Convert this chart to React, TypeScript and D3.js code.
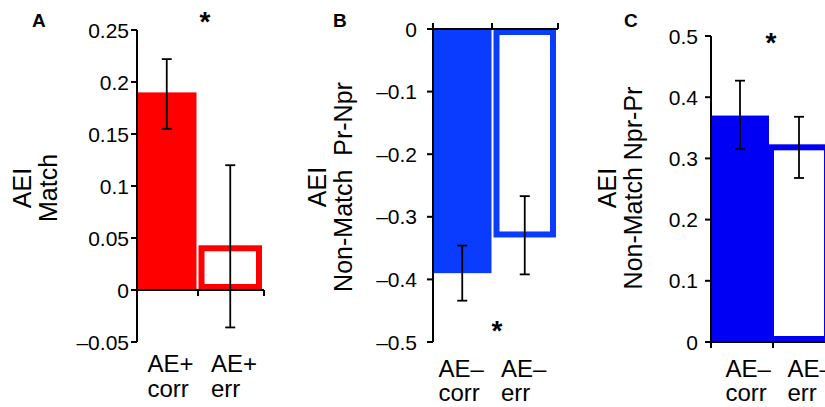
import React from "react";
import * as d3 from "d3";

// ---------- DATA ----------
const categories = ["corr", "err"];

const labelsA = [["AE+", "corr"], ["AE+", "err"]];
const valuesA = [0.19, 0.043];
const errLowA = [0.155, -0.036];
const errHighA = [0.222, 0.12];
const ticksA = [-0.05, 0, 0.05, 0.1, 0.15, 0.2, 0.25];
const tickLabelsA = ["–0.05", "0", "0.05", "0.1", "0.15", "0.2", "0.25"];

const labelsB = [["AE–", "corr"], ["AE–", "err"]];
const valuesB = [-0.39, -0.333];
const errLowB = [-0.434, -0.392];
const errHighB = [-0.346, -0.267];
const ticksB = [-0.5, -0.4, -0.3, -0.2, -0.1, 0];
const tickLabelsB = ["–0.5", "–0.4", "–0.3", "–0.2", "–0.1", "0"];

const labelsC = [["AE–", "corr"], ["AE–", "err"]];
const valuesC = [0.37, 0.323];
const errLowC = [0.315, 0.268];
const errHighC = [0.427, 0.368];
const ticksC = [0, 0.1, 0.2, 0.3, 0.4, 0.5];
const tickLabelsC = ["0", "0.1", "0.2", "0.3", "0.4", "0.5"];

const FONT = "'Liberation Sans', Arial, Helvetica, sans-serif";

type Panel = {
  letter: string;
  letterX: number;
  labels: string[][];
  values: number[];
  errLow: number[];
  errHigh: number[];
  ticks: number[];
  tickLabels: string[];
  domain: [number, number];
  yRange: [number, number];
  axisX: number;
  axisW: number;
  color: string;
  title: string[];
  titleX: number[];
  titleY: number;
  tickLabelGap: number;
  errShift: number;
  midTickShift: number;
  xTickDir: number;
  catDx: number;
  catY: number[];
  star: [number, number];
};

const panels: Panel[] = [
  {
    letter: "A", letterX: 32, labels: labelsA, values: valuesA, errLow: errLowA, errHigh: errHighA,
    ticks: ticksA, tickLabels: tickLabelsA, domain: [-0.05, 0.25], yRange: [342, 30],
    axisX: 137, axisW: 127, color: "#ff0000", title: ["AEI", "Match"], titleX: [31, 57], titleY: 188,
    tickLabelGap: 8, errShift: -2, midTickShift: -2.5, xTickDir: 1, catDx: 10.5, catY: [372, 397], star: [205, 31],
  },
  {
    letter: "B", letterX: 333, labels: labelsB, values: valuesB, errLow: errLowB, errHigh: errHighB,
    ticks: ticksB, tickLabels: tickLabelsB, domain: [-0.5, 0], yRange: [342, 29],
    axisX: 433, axisW: 125, color: "#0a3cff", title: ["AEI", "Non-Match  Pr-Npr"], titleX: [326, 352], titleY: 187,
    tickLabelGap: 16, errShift: -2, midTickShift: -3.5, xTickDir: -1, catDx: 5.5, catY: [377, 401], star: [497, 340],
  },
  {
    letter: "C", letterX: 624, labels: labelsC, values: valuesC, errLow: errLowC, errHigh: errHighC,
    ticks: ticksC, tickLabels: tickLabelsC, domain: [0, 0.5], yRange: [342, 36],
    axisX: 711, axisW: 124, color: "#0000f5", title: ["AEI", "Non-Match Npr-Pr"], titleX: [616, 642], titleY: 188,
    tickLabelGap: 13, errShift: -5, midTickShift: 0, xTickDir: 1, catDx: 14.5, catY: [377, 401], star: [771, 52],
  },
];

const SW = 6; // outline bar stroke

function PanelView({ p }: { p: Panel }) {
  const y = d3.scaleLinear().domain(p.domain).range(p.yRange);
  const x = d3.scaleBand<string>().domain(categories).range([p.axisX, p.axisX + p.axisW]).paddingInner(0).paddingOuter(0);
  const bw = x.bandwidth();
  const y0 = y(0);

  // corr bar (filled)
  const cx0 = x(categories[0])!;
  const cx1 = cx0 + bw - 4;
  const cTop = Math.min(y(p.values[0]), y0);
  const cBot = Math.max(y(p.values[0]), y0);

  // err bar (outline)
  const ex0 = x(categories[1])! + p.errShift;
  const ex1 = ex0 + bw;
  const eTop = Math.min(y(p.values[1]), y0);
  const eBot = Math.max(y(p.values[1]), y0);

  const centers = [(cx0 + cx1) / 2, (ex0 + ex1) / 2];
  const xTicks = [p.axisX, x(categories[1])! + p.midTickShift, p.axisX + p.axisW];

  return (
    <g>
      <rect x={cx0} y={cTop} width={cx1 - cx0} height={cBot - cTop} fill={p.color} />
      <rect x={ex0 + SW / 2} y={eTop + SW / 2} width={ex1 - ex0 - SW} height={eBot - eTop - SW}
        fill="#ffffff" stroke={p.color} strokeWidth={SW} />
      {/* error bars */}
      {centers.map((c, i) => (
        <g key={i} stroke="#000" strokeWidth={1.8}>
          <line x1={c} x2={c} y1={y(p.errLow[i])} y2={y(p.errHigh[i])} />
          <line x1={c - 5} x2={c + 5} y1={y(p.errLow[i])} y2={y(p.errLow[i])} />
          <line x1={c - 5} x2={c + 5} y1={y(p.errHigh[i])} y2={y(p.errHigh[i])} />
        </g>
      ))}
      {/* y axis */}
      <line x1={p.axisX} x2={p.axisX} y1={p.yRange[0]} y2={p.yRange[1]} stroke="#000" strokeWidth={2} />
      {p.ticks.map((t, i) => (
        <g key={i}>
          <line x1={p.axisX - 6} x2={p.axisX} y1={y(t)} y2={y(t)} stroke="#000" strokeWidth={2} />
          <text x={p.axisX - p.tickLabelGap} y={y(t)} dy="0.36em" textAnchor="end" fontSize={21} fontFamily={FONT} fill="#000">
            {p.tickLabels[i]}
          </text>
        </g>
      ))}
      {/* x axis */}
      <line x1={p.axisX} x2={p.axisX + p.axisW} y1={y0} y2={y0} stroke="#000" strokeWidth={2} />
      {xTicks.map((t, i) => (
        <line key={i} x1={t} x2={t} y1={y0} y2={y0 + 6 * p.xTickDir} stroke="#000" strokeWidth={2} />
      ))}
      {/* category labels */}
      {p.labels.map((lines, i) => (
        <text key={i} fontSize={24} fontFamily={FONT} fill="#000">
          {lines.map((l, j) => (
            <tspan key={j} x={x(categories[i])! + p.catDx} y={p.catY[j]}>{l}</tspan>
          ))}
        </text>
      ))}
      {/* title */}
      {p.title.map((t, j) => (
        <text key={j} transform={`translate(${p.titleX[j]},${p.titleY}) rotate(-90)`} textAnchor="middle"
          fontSize={25} fontFamily={FONT} fill="#000" style={{ whiteSpace: "pre" }}>
          {t}
        </text>
      ))}
      {/* panel letter */}
      <text x={p.letterX} y={27} fontSize={19} fontWeight="bold" fontFamily={FONT} fill="#000">{p.letter}</text>
      {/* significance star */}
      <text x={p.star[0]} y={p.star[1]} textAnchor="middle" fontSize={28} fontWeight="bold" fontFamily={FONT} fill="#000">*</text>
    </g>
  );
}

export default function App() {
  return (
    <svg width={825} height={407} style={{ position: "fixed", left: 0, top: 0, background: "#fff" }}>
      <rect x={0} y={0} width={825} height={407} fill="#fff" />
      {panels.map((p) => (
        <PanelView key={p.letter} p={p} />
      ))}
    </svg>
  );
}
